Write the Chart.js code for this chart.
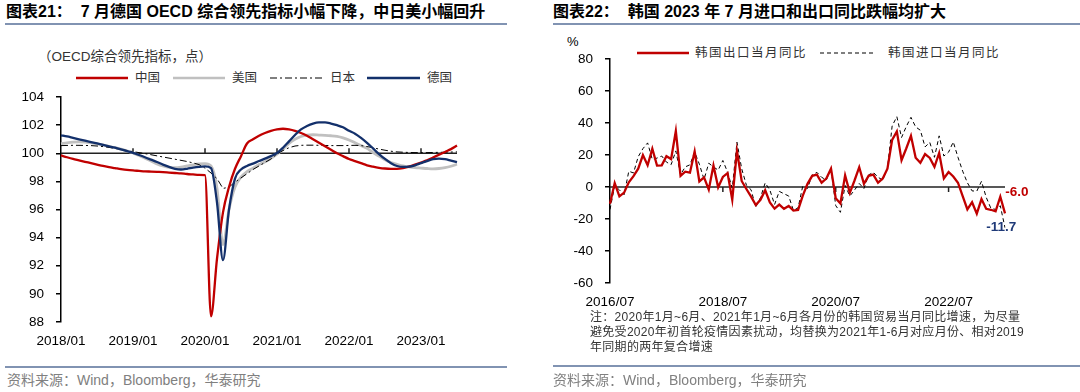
<!DOCTYPE html>
<html>
<head>
<meta charset="utf-8">
<script src="https://cdn.jsdelivr.net/npm/chart.js@4.4.0/dist/chart.umd.min.js"></script>
<style>
  body { margin: 0; width: 1080px; height: 392px; position: relative; background: #fff; overflow: hidden;
         font-family: "Liberation Sans", "Noto Sans CJK SC", sans-serif; color: #000; }
  .abs { position: absolute; white-space: nowrap; }
  .title { top: 2px; font-size: 16px; font-weight: bold; line-height: 20px; }
  .rule { position: absolute; height: 2px; background: #8193b2; }
  .src { top: 371px; font-size: 14px; color: #808080; line-height: 18px; }
  .leg { font-size: 12.5px; color: #333; line-height: 16px; }
  .note { left: 590px; top: 310px; font-size: 12px; line-height: 15px; color: #333; letter-spacing: 0.3px; }
  canvas { position: absolute; }
</style>
</head>
<body>

<div class="abs title" style="left:6px">图表21：&nbsp; 7 月德国 OECD 综合领先指标小幅下降，中日美小幅回升</div>
<div class="rule" style="left:5px; top:23px; width:502px"></div>
<div class="abs title" style="left:553px">图表22：&nbsp; 韩国 2023 年 7 月进口和出口同比跌幅均扩大</div>
<div class="rule" style="left:553px; top:23px; width:527px"></div>

<!-- 左图图例 -->
<div class="abs" style="left:38px; top:45px; font-size:13.5px; color:#333">（OECD综合领先指标，点）</div>
<svg class="abs" style="left:76px; top:73px" width="52" height="10"><line x1="0" y1="5" x2="52" y2="5" stroke="#c00000" stroke-width="2.5"/></svg>
<div class="abs leg" style="left:135px; top:70px">中国</div>
<svg class="abs" style="left:173px; top:73px" width="52" height="10"><line x1="0" y1="5" x2="52" y2="5" stroke="#c0c0c0" stroke-width="2.5"/></svg>
<div class="abs leg" style="left:232px; top:70px">美国</div>
<svg class="abs" style="left:270px; top:73px" width="52" height="10"><line x1="0" y1="5" x2="52" y2="5" stroke="#000" stroke-width="1.2" stroke-dasharray="7 3 2 3"/></svg>
<div class="abs leg" style="left:330px; top:70px">日本</div>
<svg class="abs" style="left:367px; top:73px" width="53" height="10"><line x1="0" y1="5" x2="53" y2="5" stroke="#13306b" stroke-width="2.5"/></svg>
<div class="abs leg" style="left:427px; top:70px">德国</div>

<!-- 右图图例 -->
<div class="abs" style="left:567px; top:34px; font-size:13px">%</div>
<svg class="abs" style="left:637px; top:48px" width="52" height="10"><line x1="0" y1="5" x2="52" y2="5" stroke="#c00000" stroke-width="2.5"/></svg>
<div class="abs leg" style="left:695px; top:45px; letter-spacing:1.5px">韩国出口当月同比</div>
<svg class="abs" style="left:820px; top:48px" width="54" height="10"><line x1="0" y1="5" x2="54" y2="5" stroke="#000" stroke-width="1.2" stroke-dasharray="4 3"/></svg>
<div class="abs leg" style="left:888px; top:45px; letter-spacing:1.5px">韩国进口当月同比</div>

<canvas id="oecd" width="510" height="281" style="left:0; top:77px"></canvas>
<canvas id="korea" width="540" height="276" style="left:540px; top:39px"></canvas>

<div class="abs note">注：2020年1月~6月、2021年1月~6月各月份的韩国贸易当月同比增速，为尽量<br>避免受2020年初首轮疫情因素扰动，均替换为2021年1-6月对应月份、相对2019<br>年同期的两年复合增速</div>

<div class="rule" style="left:5px; top:366px; width:502px"></div>
<div class="abs src" style="left:7px">资料来源：Wind，Bloomberg，华泰研究</div>
<div class="rule" style="left:553px; top:365px; width:527px"></div>
<div class="abs src" style="left:553px">资料来源：Wind，Bloomberg，华泰研究</div>

<script>
// ---------------- 图表21 数据（2018/01 - 2023/07，月度）----------------
const oecdTicks = ["2018/01", "2019/01", "2020/01", "2021/01", "2022/01", "2023/01"];
const oecdYTicks = [88, 104, 2];   // 最小值、最大值、步长

const oecdChina = [
  99.85, 99.72, 99.6, 99.5, 99.4, 99.3, 99.2, 99.1, 99.02, 98.95, 98.88, 98.82,
  98.78, 98.75, 98.72, 98.7, 98.68, 98.66, 98.63, 98.6, 98.57, 98.53, 98.5, 98.47,
  98.45, 88.4, 92.5, 95.8, 97.6, 98.9, 99.8, 100.7, 101.0, 101.25, 101.45, 101.6,
  101.7, 101.75, 101.7, 101.6, 101.45, 101.25, 101.0, 100.75, 100.5, 100.25, 100.0, 99.8,
  99.6, 99.45, 99.3, 99.15, 99.05, 98.97, 98.92, 98.9, 98.9, 98.95, 99.05, 99.2,
  99.35, 99.5, 99.7, 99.9, 100.1, 100.3, 100.55
];
const oecdUS = [
  100.68, 100.75, 100.8, 100.82, 100.8, 100.75, 100.68, 100.6, 100.5, 100.4, 100.3, 100.18,
  100.02, 99.85, 99.65, 99.45, 99.25, 99.1, 99.0, 98.98, 99.02, 99.1, 99.18, 99.24,
  99.27, 99.1, 97.5, 93.5, 96.0, 97.6, 98.3, 98.7, 98.95, 99.2, 99.4, 99.65,
  99.95, 100.3, 100.7, 101.0, 101.2, 101.3, 101.32, 101.3, 101.28, 101.25, 101.2, 101.1,
  100.95, 100.75, 100.55, 100.35, 100.05, 99.8, 99.55, 99.35, 99.22, 99.1, 99.03, 98.98,
  98.95, 98.92, 98.9, 98.92, 98.98, 99.08, 99.22
];
const oecdJapan = [
  100.55, 100.56, 100.57, 100.57, 100.56, 100.55, 100.52, 100.48, 100.42, 100.35, 100.28, 100.2,
  100.12, 100.05, 99.98, 99.9, 99.82, 99.74, 99.66, 99.58, 99.5, 99.42, 99.32, 99.2,
  98.95, 98.6, 98.2, 97.5, 97.6, 97.95, 98.25, 98.55, 98.85, 99.1, 99.35, 99.6,
  99.95, 100.2, 100.4, 100.52, 100.57, 100.58, 100.58, 100.57, 100.56, 100.55, 100.55, 100.55,
  100.56, 100.57, 100.55, 100.48, 100.4, 100.3, 100.22, 100.15, 100.1, 100.08, 100.06, 100.05,
  100.05, 100.05, 100.06, 100.07, 100.08, 100.09, 100.1
];
const oecdGermany = [
  101.28, 101.2, 101.1, 101.0, 100.9, 100.8, 100.7, 100.6, 100.5, 100.4, 100.28, 100.16,
  100.03, 99.88, 99.72, 99.55, 99.38, 99.2, 99.03, 98.9, 98.85, 98.9, 98.98, 99.04,
  99.07, 98.95, 96.5, 92.4, 96.0, 98.2, 98.85, 99.1, 99.27, 99.45, 99.62, 99.8,
  100.02, 100.4, 100.85, 101.3, 101.7, 101.95, 102.12, 102.2, 102.2, 102.12, 102.0, 101.85,
  101.6, 101.4, 101.1, 100.75, 100.35, 99.95, 99.6, 99.3, 99.1, 99.03, 99.05, 99.15,
  99.3, 99.45, 99.58, 99.62, 99.58, 99.48, 99.38
];

// ---------------- 图表22 数据（2016/07 - 2023/07，%）----------------
const koreaTicks = ["2016/07", "2018/07", "2020/07", "2022/07"];
const koreaYTicks = [-60, 80, 20];

const koreaExport = [
  -10.4, 2.5, -5.8, -3.5, 3.0, 6.8, 11.5, 20.0, 13.6, 24.0, 13.4, 13.6,
  19.3, 17.5, 35.0, 7.0, 9.6, 9.0, 22.3, 3.5, 6.0, -1.6, 13.5, -0.2,
  6.3, 8.7, -8.0, 22.6, 3.8, -1.2, -6.0, -11.3, -8.0, -2.0, -9.6, -13.5,
  -11.0, -13.6, -11.8, -14.7, -14.3, -5.3, 2.0, 7.0, 7.8, 2.7, 5.3, 11.5,
  -7.0, -10.3, 7.3, -3.6, 4.1, 12.4, 2.0, 7.0, 7.8, 2.7, 5.3, 11.5,
  29.5, 34.8, 16.8, 24.1, 32.0, 18.3, 15.2, 20.6, 18.2, 12.6, 21.3, 5.4,
  9.4, 6.6, 2.7, -5.7, -14.0, -9.5, -16.6, -7.5, -13.6, -14.2, -15.2, -6.0, -16.5
];
const koreaImport = [
  -14.0, 0.9, -1.8, -4.8, 9.9, 8.8, 19.0, 24.0, 27.6, 17.2, 18.1, 19.4,
  15.6, 14.0, 22.6, 7.8, 12.6, 13.9, 21.9, 14.3, 4.8, 14.9, 12.6, 10.6,
  16.6, 9.3, -0.7, 28.1, 11.5, 1.2, -1.7, -12.6, -6.6, 2.6, -1.9, -10.9,
  -2.7, -4.2, -5.6, -14.6, -13.0, 0.7, -0.9, 7.6, 9.2, 6.1, 4.4, 11.7,
  -11.6, -15.8, 1.0, -5.6, -1.9, 2.2, -0.9, 7.6, 9.2, 6.1, 4.4, 11.7,
  38.2, 44.0, 31.0, 37.8, 43.6, 37.6, 35.5, 25.1, 27.9, 18.6, 32.0, 19.4,
  21.8, 28.2, 18.6, 9.9, 2.7, -2.4, -2.6, 3.6, -6.4, -13.3, -14.0, -11.7, -25.4
];
// 右侧标注：6月数值
const koreaNotes = [
  { text: "-6.0", series: 0, index: 83, color: "#c00000", dx: 5, dy: -4, align: "left" },
  { text: "-11.7", series: 1, index: 83, color: "#1f3a78", dx: 1, dy: 22, align: "center" }
];

// 月份标签
function monthLabels(year, month, count) {
  const out = [];
  for (let i = 0; i < count; i++) {
    const m = (month - 1 + i) % 12 + 1;
    const y = year + Math.floor((month - 1 + i) / 12);
    out.push(y + "/" + String(m).padStart(2, "0"));
  }
  return out;
}
const oecdMonths = monthLabels(2018, 1, oecdChina.length);
const koreaMonths = monthLabels(2016, 7, koreaExport.length);

const tickFont = { family: "'Liberation Sans', Arial, sans-serif", size: 13.5 };

// 基准线（100 / 0）及其上的年份刻度
function baseLine(value, labels, months, dir) {
  return {
    id: "baseLine",
    beforeDatasetsDraw(chart) {
      const { ctx, chartArea, scales: { x, y } } = chart;
      const py = y.getPixelForValue(value);
      ctx.save();
      ctx.strokeStyle = "#222";
      ctx.lineWidth = 1.5;
      ctx.beginPath();
      ctx.moveTo(chartArea.left, py);
      ctx.lineTo(chartArea.right, py);
      labels.forEach((l) => {
        const i = months.indexOf(l);
        if (i <= 0) return;
        const px = x.getPixelForValue(i);
        ctx.moveTo(px, py);
        ctx.lineTo(px, py + dir * 5);
      });
      ctx.stroke();
      ctx.restore();
    }
  };
}

const valueNotes = {
  id: "valueNotes",
  afterDatasetsDraw(chart) {
    const ctx = chart.ctx;
    ctx.save();
    ctx.font = "bold 13.5px 'Liberation Sans', Arial, sans-serif";
    ctx.textBaseline = "middle";
    koreaNotes.forEach((n) => {
      const pt = chart.getDatasetMeta(n.series).data[n.index];
      ctx.fillStyle = n.color;
      ctx.textAlign = n.align;
      ctx.fillText(n.text, pt.x + n.dx, pt.y + n.dy);
    });
    ctx.restore();
  }
};

function yAxis(range, width) {
  return {
    min: range[0],
    max: range[1],
    afterFit: (s) => { s.width = width; },
    border: { display: true, color: "#000", width: 1.5 },
    grid: { drawOnChartArea: false, drawTicks: true, tickLength: 5, color: "#000", lineWidth: 1.5 },
    ticks: { stepSize: range[2], color: "#000", font: tickFont, padding: 12 }
  };
}

function xAxis(ticks, height) {
  return {
    type: "category",
    offset: false,
    afterFit: (s) => { s.height = height; },
    border: { display: false },
    grid: { display: false, drawTicks: false },
    ticks: {
      autoSkip: false,
      maxRotation: 0,
      color: "#000",
      font: tickFont,
      padding: 11,
      callback(v) {
        const l = this.getLabelForValue(v);
        return ticks.includes(l) ? l : "";
      }
    }
  };
}

const common = {
  responsive: false,
  animation: false,
  events: [],
  elements: { point: { radius: 0 } },
  plugins: { legend: { display: false }, tooltip: { enabled: false } }
};

// ---- 图表21 ----
new Chart(document.getElementById("oecd"), {
  type: "line",
  data: {
    labels: oecdMonths,
    datasets: [
      { label: "德国", data: oecdGermany, borderColor: "#13306b", borderWidth: 2.3, tension: 0.4, cubicInterpolationMode: "monotone", order: 0 },
      { label: "中国", data: oecdChina, borderColor: "#c00000", borderWidth: 2.3, tension: 0.4, cubicInterpolationMode: "monotone", order: 1 },
      { label: "日本", data: oecdJapan, borderColor: "#000", borderWidth: 1, borderDash: [7, 3, 2, 3], tension: 0, order: 2 },
      { label: "美国", data: oecdUS, borderColor: "#c0c0c0", borderWidth: 2.8, tension: 0.4, cubicInterpolationMode: "monotone", order: 3 }
    ]
  },
  options: {
    ...common,
    layout: { padding: { top: 0, right: 53, left: 0, bottom: 0 } },
    scales: { x: xAxis(oecdTicks, 36), y: yAxis(oecdYTicks, 61) }
  },
  plugins: [baseLine(100, oecdTicks, oecdMonths, -1)]
});

// ---- 图表22 ----
new Chart(document.getElementById("korea"), {
  type: "line",
  data: {
    labels: koreaMonths,
    datasets: [
      { label: "韩国出口当月同比", data: koreaExport, borderColor: "#c00000", borderWidth: 2.3, tension: 0, order: 0 },
      { label: "韩国进口当月同比", data: koreaImport, borderColor: "#000", borderWidth: 1, borderDash: [4, 3], tension: 0, order: 1 }
    ]
  },
  options: {
    ...common,
    layout: { padding: { top: 0, right: 75, left: 0, bottom: 0 } },
    scales: { x: xAxis(koreaTicks, 32), y: yAxis(koreaYTicks, 70) }
  },
  plugins: [baseLine(0, koreaTicks, koreaMonths, 1), valueNotes]
});
</script>
</body>
</html>
